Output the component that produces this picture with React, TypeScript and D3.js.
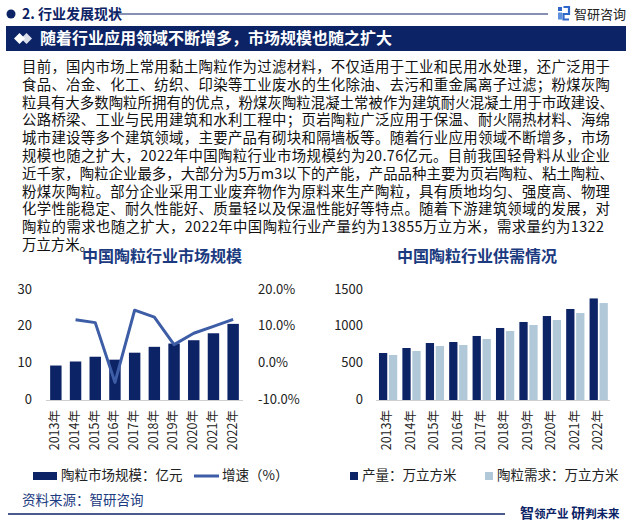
import React from "react";
import * as d3 from "d3";

const years = ["2013年", "2014年", "2015年", "2016年", "2017年", "2018年", "2019年", "2020年", "2021年", "2022年"];
const marketSize = [9.4, 10.5, 11.8, 11.0, 12.9, 14.5, 15.4, 16.3, 18.2, 20.76];
const growthYears = ["2014年", "2015年", "2016年", "2017年", "2018年", "2019年", "2020年", "2021年", "2022年"];
const growth = [11.9, 11.1, -5.2, 14.5, 12.6, 5.1, 8.2, 10.1, 12.0];
const production = [641, 709, 777, 791, 873, 982, 1064, 1145, 1241, 1385];
const demand = [614, 668, 736, 750, 832, 941, 1023, 1091, 1186, 1322];
const leftTicks = [0, 10, 20, 30];
const rightTicks = [-10, 0, 10, 20];
const supplyTicks = [0, 500, 1000, 1500];

const paragraph = [
  "目前，国内市场上常用黏土陶粒作为过滤材料，不仅适用于工业和民用水处理，还广泛用于",
  "食品、冶金、化工、纺织、印染等工业废水的生化除油、去污和重金属离子过滤；粉煤灰陶",
  "粒具有大多数陶粒所拥有的优点，粉煤灰陶粒混凝土常被作为建筑耐火混凝土用于市政建设、",
  "公路桥梁、工业与民用建筑和水利工程中；页岩陶粒广泛应用于保温、耐火隔热材料、海绵",
  "城市建设等多个建筑领域，主要产品有砌块和隔墙板等。随着行业应用领域不断增多，市场",
  "规模也随之扩大，2022年中国陶粒行业市场规模约为20.76亿元。目前我国轻骨料从业企业",
  "近千家，陶粒企业最多，大部分为5万m3以下的产能，产品品种主要为页岩陶粒、粘土陶粒、",
  "粉煤灰陶粒。部分企业采用工业废弃物作为原料来生产陶粒，具有质地均匀、强度高、物理",
  "化学性能稳定、耐久性能好、质量轻以及保温性能好等特点。随着下游建筑领域的发展，对",
  "陶粒的需求也随之扩大，2022年中国陶粒行业产量约为13855万立方米，需求量约为1322",
  "万立方米。",
];
const lineWidths = [588, 588, 592, 588, 588, 588, 592, 588, 588, 582, 0];

const NAVY = "#0c2366";
const LINE_BLUE = "#3d5da6";
const LIGHT = "#b0c8d8";
const FONT = "'Noto Sans CJK SC', 'Noto Sans', sans-serif";

export default function App() {
  const W = 632, H = 524;
  const yL = d3.scaleLinear().domain([0, 30]).range([400, 290]);
  const yR = d3.scaleLinear().domain([-10, 20]).range([400, 290]);
  const xL = d3.scaleBand().domain(years).range([46, 243]).paddingInner(0.42).paddingOuter(0.21);
  const lineGen = d3.line<number>()
    .x((_, i) => (xL(growthYears[i]) as number) + xL.bandwidth() / 2)
    .y((d) => yR(d));

  const yS = d3.scaleLinear().domain([0, 1500]).range([400, 290]);
  const xS = d3.scaleBand().domain(years).range([376.4, 610.4]).paddingInner(0.22).paddingOuter(0.11);
  const gap = 1.7;
  const bw = (xS.bandwidth() - gap) / 2;

  return (
    <svg width={W} height={H} style={{ display: "block", position: "absolute", left: 0, top: 0 }} fontFamily={FONT}>
      <rect x={0} y={0} width={W} height={H} fill="#fff" />
      {/* header */}
      <circle cx={11} cy={14} r={4.5} fill={NAVY} />
      <text x={22} y={19} fontSize={14} fontWeight="bold" fill={NAVY}>2. 行业发展现状</text>
      <line x1={112} x2={548} y1={14} y2={14} stroke={NAVY} strokeWidth={1.2} />
      <g transform="translate(558,7)">
        <rect x={0} y={0} width={4} height={4} fill="#2e67c9" />
        <rect x={0} y={5.5} width={4} height={7} fill="#5d8fdc" />
        <path d="M5.5 0 H11 V7 H5.5 V12.5 H11" fill="none" stroke="#2e67c9" strokeWidth={2.2} />
      </g>
      <text x={574} y={19} fontSize={13} fill="#222">智研咨询</text>
      {/* title bar */}
      <rect x={6} y={26} width={620} height={25} fill={NAVY} />
      <path d="M14 38.5 L19.5 33 L25 38.5 L19.5 44 Z" fill="#fff" />
      <path d="M21 38.5 L26.5 33 L32 38.5 L26.5 44 Z" fill="#fff" opacity={0.85} />
      <text x={40} y={44} fontSize={16} fontWeight="bold" fill="#fff">随着行业应用领域不断增多，市场规模也随之扩大</text>
      {/* paragraph */}
      <text fontSize={14.4} fill="#111">
        {paragraph.map((t, i) => (
          <tspan key={i} x={22} y={72 + i * 17.8}
            {...(lineWidths[i] ? { textLength: lineWidths[i], lengthAdjust: "spacing" } : {})}>{t}</tspan>
        ))}
      </text>
      {/* chart titles */}
      <text x={82} y={262} fontSize={16} fontWeight="bold" fill="#1b3a80">中国陶粒行业市场规模</text>
      <text x={397} y={262} fontSize={16} fontWeight="bold" fill="#1b3a80">中国陶粒行业供需情况</text>

      {/* left chart */}
      {leftTicks.map((t) => (
        <text key={"l" + t} x={32} y={yL(t)} fontSize={13} textAnchor="end" dominantBaseline="middle" fill="#222">{t}</text>
      ))}
      {rightTicks.map((t) => (
        <text key={"r" + t} x={258} y={yR(t)} fontSize={13} textAnchor="start" dominantBaseline="middle" fill="#222">{t.toFixed(1)}%</text>
      ))}
      {years.map((y, i) => (
        <rect key={y} x={xL(y)} y={yL(marketSize[i])} width={xL.bandwidth()} height={yL(0) - yL(marketSize[i])} fill={NAVY} />
      ))}
      <line x1={46} x2={243} y1={400.5} y2={400.5} stroke="#cfcfcf" strokeWidth={1} />
      <path d={lineGen(growth) || ""} fill="none" stroke={LINE_BLUE} strokeWidth={3} strokeLinejoin="round" />
      {years.map((y) => {
        const cx = (xL(y) as number) + xL.bandwidth() / 2;
        return (
          <text key={"xl" + y} transform={`translate(${cx},410) rotate(-90)`} fontSize={12.5} textAnchor="end" dominantBaseline="middle" fill="#222">{y}</text>
        );
      })}

      {/* right chart */}
      {supplyTicks.map((t) => (
        <text key={"s" + t} x={363} y={yS(t)} fontSize={13} textAnchor="end" dominantBaseline="middle" fill="#222">{t}</text>
      ))}
      {years.map((y, i) => (
        <g key={"p" + y}>
          <rect x={xS(y)} y={yS(production[i])} width={bw} height={yS(0) - yS(production[i])} fill={NAVY} />
          <rect x={(xS(y) as number) + bw + gap} y={yS(demand[i])} width={bw} height={yS(0) - yS(demand[i])} fill={LIGHT} />
        </g>
      ))}
      <line x1={376} x2={610} y1={400.5} y2={400.5} stroke="#cfcfcf" strokeWidth={1} />
      {years.map((y) => {
        const cx = (xS(y) as number) + xS.bandwidth() / 2;
        return (
          <text key={"xs" + y} transform={`translate(${cx},410) rotate(-90)`} fontSize={12.5} textAnchor="end" dominantBaseline="middle" fill="#222">{y}</text>
        );
      })}

      {/* legends */}
      <rect x={33} y={472} width={24} height={8} fill={NAVY} />
      <text x={61} y={476} fontSize={13.5} dominantBaseline="middle" fill="#222">陶粒市场规模：亿元</text>
      <line x1={194} x2={219} y1={476} y2={476} stroke={LINE_BLUE} strokeWidth={3} />
      <text x={222} y={476} fontSize={13.5} dominantBaseline="middle" fill="#222">增速（%）</text>
      <rect x={350} y={472} width={8} height={8} fill={NAVY} />
      <text x={362} y={476} fontSize={13.5} dominantBaseline="middle" fill="#222">产量：万立方米</text>
      <rect x={485} y={472} width={8} height={8} fill={LIGHT} />
      <text x={497} y={476} fontSize={13.5} dominantBaseline="middle" fill="#222">陶粒需求：万立方米</text>

      {/* footer */}
      <text x={22} y={505} fontSize={13.5} fill="#1b3a80">资料来源：智研咨询</text>
      <line x1={8} x2={505} y1={514} y2={514} stroke={NAVY} strokeWidth={1.5} />
      <text x={520} y={518} fill={NAVY} fontWeight="bold">
        <tspan fontSize={14}>智</tspan><tspan fontSize={11.5}>领产业 </tspan>
        <tspan fontSize={14}>研</tspan><tspan fontSize={11.5}>判未来</tspan>
      </text>
    </svg>
  );
}
